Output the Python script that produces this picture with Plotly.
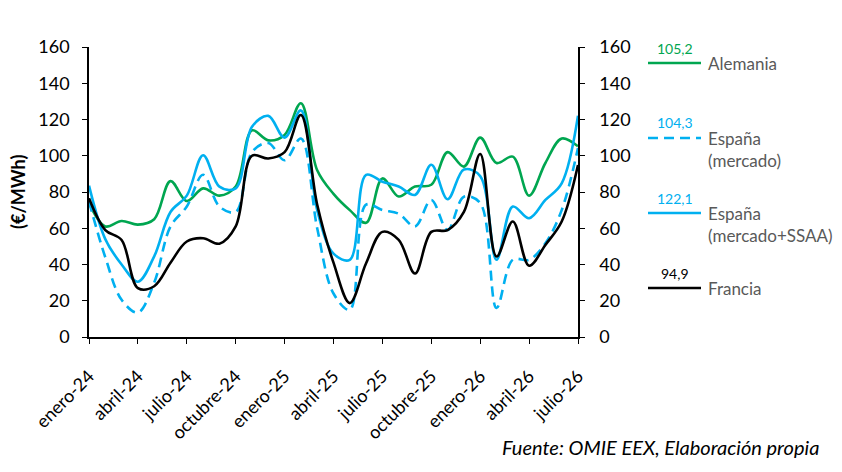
import plotly.graph_objects as go

# months, enero-24 .. julio-26
meses = ['enero', 'febrero', 'marzo', 'abril', 'mayo', 'junio', 'julio',
         'agosto', 'septiembre', 'octubre', 'noviembre', 'diciembre']
fechas = [f'{m}-{a}' for a in ('24', '25', '26') for m in meses][:31]
ticks_x = fechas[::3]

alemania = [74, 61, 64, 62, 65, 86, 75, 82, 78, 83, 114, 108.5, 111.5, 129,
            92, 79, 70, 63, 87.5, 77.5, 83, 84, 102, 94, 110, 96, 99.5, 78,
            96, 109.5, 105.2]
espana_mercado = [74.7, 44, 20.5, 13.5, 30, 61, 72, 89.5, 72, 69, 102, 107,
                  97.5, 109.5, 60, 24, 15, 73, 70, 68, 61, 75.6, 59, 77.4, 74,
                  16, 42.6, 42.6, 51.7, 70, 104.3]
espana_ssaa = [83.5, 54, 40, 30.5, 44.5, 69, 78, 100.3, 83, 82, 116, 122,
               110, 125, 70, 46, 42.6, 89.5, 85.7, 83, 78.4, 95, 76, 92.4,
               88.8, 42.6, 72, 65.5, 75.6, 84.8, 122.1]
francia = [76.5, 59, 53.5, 27, 28, 41, 52.7, 54.5, 51.5, 61, 100, 98.5, 102,
           122.5, 73, 41, 18.7, 40.7, 58, 53.6, 35, 58, 59, 69, 101, 44.4,
           63.7, 39.3, 50.8, 63.7, 94.9]

series = [
    ('Alemania', alemania, '#00A650', 'solid', ['Alemania']),
    ('España (mercado)', espana_mercado, '#00B0F0', '10px,6px', ['España', '(mercado)']),
    ('España (mercado+SSAA)', espana_ssaa, '#00B0F0', 'solid', ['España', '(mercado+SSAA)']),
    ('Francia', francia, '#000000', 'solid', ['Francia']),
]

# the page body has an 8px margin, so the figure is drawn 8px smaller/shifted
OFF = 8
W, H = 842 - OFF, 472 - OFF
L, R, T, B = 89 - OFF, 578 - OFF, 47 - OFF, 337 - OFF
FONT = 'Lato'


def px(x, y):
    # pixel position in the reference picture -> paper coordinates
    x, y = x - OFF, y - OFF
    return (x - L) / (R - L), (B - y) / (B - T)


fig = go.Figure()
for name, vals, color, dash, _ in series:
    fig.add_scatter(x=fechas, y=vals, name=name, mode='lines',
                    line=dict(color=color, width=2.6, dash=dash, shape='spline', smoothing=1),
                    yaxis='y2' if name == 'Francia' else 'y',
                    showlegend=False)

# hand-made legend: value above the sample line, name on the right
legend_y = [63, 138, 213, 288]
shapes, annots = [], []
for (name, vals, color, dash, lines), ly in zip(series, legend_y):
    x0, y0 = px(648, ly)
    x1, _ = px(701, ly)
    shapes.append(dict(type='line', xref='paper', yref='paper', x0=x0, x1=x1, y0=y0, y1=y0,
                       line=dict(color=color, width=2.6, dash=dash)))
    vx, vy = px(675, ly - 15)
    annots.append(dict(xref='paper', yref='paper', x=vx, y=vy, text=f'{vals[-1]:.1f}'.replace('.', ','),
                       showarrow=False, xanchor='center', yanchor='middle',
                       font=dict(family=FONT, size=14, color=color)))
    for i, txt in enumerate(lines):
        tx, ty = px(706, ly + 22.5 * i)
        annots.append(dict(xref='paper', yref='paper', x=tx, y=ty, text=txt, showarrow=False,
                           xanchor='left', yanchor='middle',
                           font=dict(family=FONT, size=17, color='#595959')))

tx, ty = px(18, 192)
annots.append(dict(xref='paper', yref='paper', x=tx, y=ty, text='<b>(€/MWh)</b>', textangle=-90,
                   showarrow=False, xanchor='center', yanchor='middle',
                   font=dict(family=FONT, size=18, color='#000000')))
sx, sy = px(821, 447)
annots.append(dict(xref='paper', yref='paper', x=sx, y=sy, text='<i>Fuente: OMIE EEX, Elaboración propia</i>',
                   showarrow=False, xanchor='right', yanchor='middle',
                   font=dict(family=FONT, size=20, color='#000000')))

yax = dict(range=[0, 160], dtick=20, showgrid=False, zeroline=False, showline=True,
           linecolor='#000000', linewidth=1.5, ticks='outside', ticklen=5, tickcolor='#000000',
           tickfont=dict(family=FONT, size=18, color='#000000'), fixedrange=True)

fig.update_layout(
    width=W, height=H,
    margin=dict(l=L, r=W - R, t=T, b=H - B),
    plot_bgcolor='white', paper_bgcolor='white',
    font=dict(family=FONT),
    xaxis=dict(type='category', range=[0, 30], tickmode='array', tickvals=ticks_x, ticktext=ticks_x,
               tickangle=-45, showgrid=False, zeroline=False, showline=True, linecolor='#000000',
               linewidth=1.5, ticks='outside', ticklen=5, tickcolor='#000000', ticklabelstandoff=15,
               tickfont=dict(family=FONT, size=18, color='#000000')),
    yaxis=dict(**yax, ticklabelstandoff=9),
    yaxis2=dict(**yax, overlaying='y', side='right', ticklabelstandoff=11),
    shapes=shapes,
    annotations=annots,
)

fig.write_html('out.html')
